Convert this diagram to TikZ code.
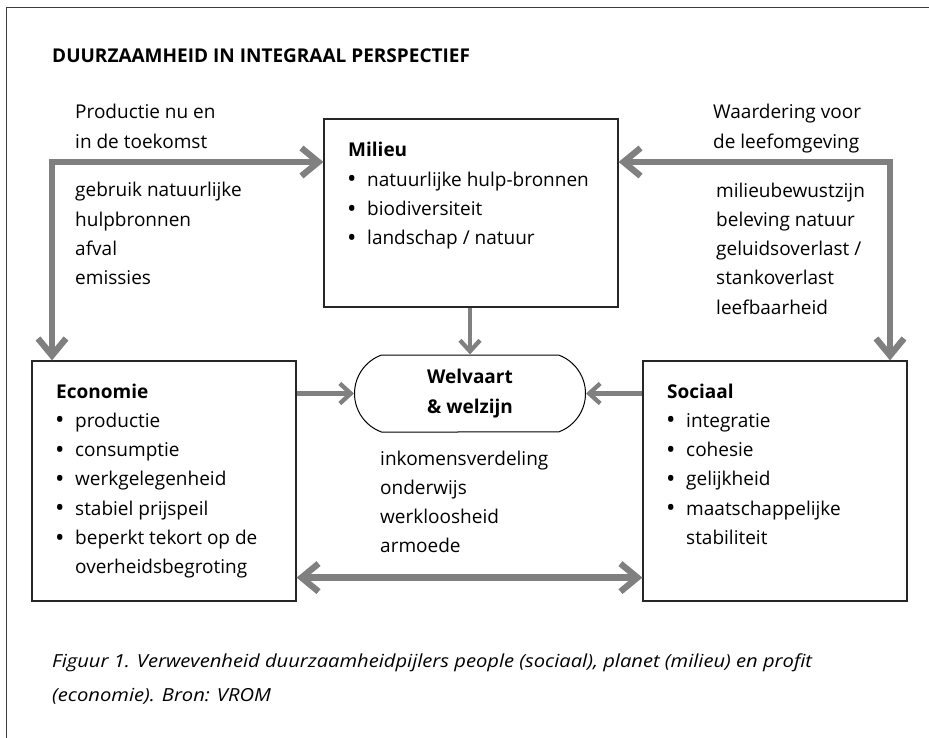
\documentclass[tikz,border=0pt]{standalone}
\usepackage{fontspec}
\setmainfont{Open Sans}
\newfontfamily\onderschriftfont[FakeStretch=1.12]{Open Sans}
\usepackage{xcolor}
\usetikzlibrary{positioning,
	calc,
	arrows.meta,
	shapes.misc}
\definecolor{pijlgrijs}{RGB}{128,128,128}
\definecolor{kadergrijs}{RGB}{60,60,60}
\newcommand{\itm}[1]{\makebox[19pt][l]{\hspace*{-1pt}\raisebox{-1.6pt}{\fontsize{25}{0}\selectfont\textbullet}}#1}
\newcommand{\nitm}[1]{\hspace*{19pt}#1}

\begin{document}
\begin{tikzpicture}[x=1pt, y=-1pt,
	box/.style={draw=black!85, line width=1.2pt, rectangle, inner sep=0pt},
	txt/.style={align=left, anchor=base west, inner sep=0pt, font=\fontsize{19}{29.3}\selectfont},
	bigarrow/.style={draw=pijlgrijs, line width=6.3pt, line join=miter, >={Straight Barb[length=17pt, width=28pt]}},
	smallarrow/.style={draw=pijlgrijs, line width=4.3pt, >={Straight Barb[length=11pt, width=20pt]}}]
	\useasboundingbox (0,0) rectangle (929,738);
	\draw[kadergrijs, line width=1.5pt] (6.5,738) -- (6.5,7.5) -- (929,7.5);
	\node (titel) [txt, font=\fontsize{19}{29.3}\selectfont\bfseries] at (52,63) {DUURZAAMHEID IN INTEGRAAL PERSPECTIEF};

	\node (milieu) [box, minimum width=294pt, minimum height=188pt] at (471,213) {};
	\node (economie) [box, minimum width=264pt, minimum height=240pt] at (164,481) {};
	\node (sociaal) [box, minimum width=264pt, minimum height=240pt] at (775,481) {};
	\node (welvaart) [draw=black, line width=1pt, rounded rectangle, rounded rectangle arc length=140, minimum width=231pt, minimum height=77pt, inner sep=0pt, align=center, font=\fontsize{19}{29.3}\selectfont\bfseries] at (470,393.5) {Welvaart\\\& welzijn};

	\node (milieutxt) [txt] at (348,244.9) {\textbf{Milieu}\\\itm{natuurlijke hulp-bronnen}\\\itm{biodiversiteit}\\\itm{landschap / natuur}};
	\node (economietxt) [txt] at (56,573.8) {\textbf{Economie}\\\itm{productie}\\\itm{consumptie}\\\itm{werkgelegenheid}\\\itm{stabiel prijspeil}\\\itm{beperkt tekort op de}\\\nitm{overheidsbegroting}};
	\node (sociaaltxt) [txt] at (667,544.5) {\textbf{Sociaal}\\\itm{integratie}\\\itm{cohesie}\\\itm{gelijkheid}\\\itm{maatschappelijke}\\\nitm{stabiliteit}};

	\node (productie) [txt] at (75,148.3) {Productie nu en\\in de toekomst};
	\node (gebruik) [txt] at (75,284.9) {gebruik natuurlijke\\hulpbronnen\\afval\\emissies};
	\node (waardering) [txt] at (713,148.3) {Waardering voor\\de leefomgeving};
	\node (beleving) [txt] at (716,314.2) {milieubewustzijn\\beleving natuur\\geluidsoverlast /\\stankoverlast\\leefbaarheid};
	\node (inkomen) [txt] at (380,552.9) {inkomensverdeling\\onderwijs\\werkloosheid\\armoede};

	\coordinate (lhoek) at (52,162);
	\coordinate (rhoek) at (890,162);
	\draw[bigarrow, <->] (economie.north -| lhoek) -- (lhoek) -- (milieu.west |- lhoek);
	\draw[bigarrow, <->] (milieu.east |- rhoek) -- (rhoek) -- (sociaal.north -| rhoek);
	\draw[bigarrow, <->] ([yshift=24pt]economie.south east) -- ([yshift=24pt]sociaal.south west);
	\draw[smallarrow, ->] (milieu.south -| welvaart.north) -- (welvaart.north);
	\draw[smallarrow, ->] (economie.east |- welvaart.west) -- (welvaart.west);
	\draw[smallarrow, ->] (sociaal.west |- welvaart.east) -- (welvaart.east);

	\node (onderschrift) [txt, font=\fontsize{18}{34}\selectfont\onderschriftfont\itshape] at (52,701) {Figuur 1. Verwevenheid duurzaamheidpijlers people (sociaal), planet (milieu) en profit\\(economie). Bron: VROM};
\end{tikzpicture}
\end{document}
